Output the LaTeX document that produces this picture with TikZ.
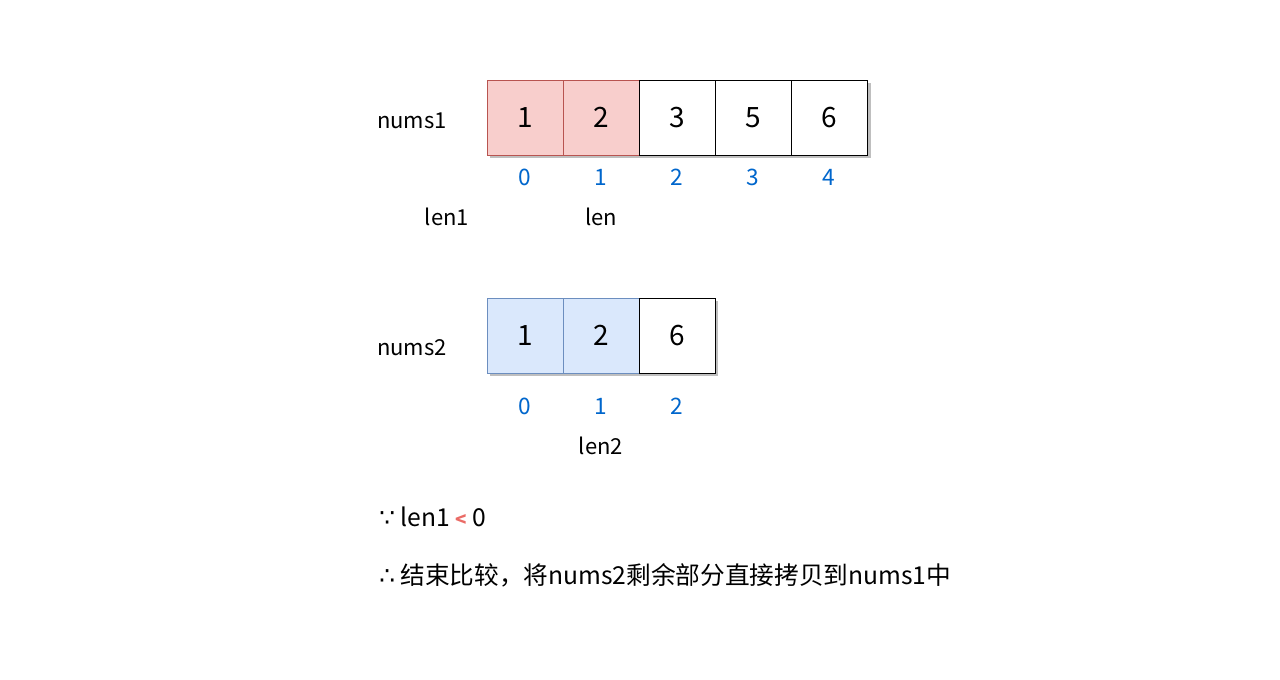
\documentclass[tikz,border=0pt]{standalone}
\usepackage{fontspec}
\setmainfont{Noto Sans CJK SC}
\newfontfamily\symfont{DejaVu Sans}
\definecolor{redfill}{HTML}{F8CECC}
\definecolor{redline}{HTML}{B85450}
\definecolor{bluefill}{HTML}{DAE8FC}
\definecolor{blueline}{HTML}{6C8EBF}
\definecolor{idxblue}{HTML}{0066CC}
\definecolor{ltred}{HTML}{EA6B66}
\begin{document}
\begin{tikzpicture}[x=0.75pt,y=-0.75pt,
  cell/.style={draw=black,fill=white,line width=0.75pt,minimum width=57pt,minimum height=56.25pt,inner sep=0pt,font=\fontsize{21}{25}\selectfont},
  redcell/.style={cell,draw=redline,fill=redfill},
  bluecell/.style={cell,draw=blueline,fill=bluefill},
  idx/.style={text=idxblue,font=\fontsize{17}{20}\selectfont,inner sep=0pt},
  lbl/.style={font=\fontsize{16.5}{20}\selectfont,inner sep=0pt},
  note/.style={font=\fontsize{18.5}{22}\selectfont,inner sep=0pt,anchor=west}]
\useasboundingbox (0,0) rectangle (1280,679);
% shadows
\fill[black!25] (490,83) rectangle (871,158);
\fill[black!25] (490,301) rectangle (718,376);
% nums1
\node[lbl] (n1) at (412,121) {nums1};
\node[redcell] (a0) at (525,117.5) {1};
\node[redcell] (a1) at (601,117.5) {2};
\node[cell] (a2) at (677,117.5) {3};
\node[cell] (a3) at (753,117.5) {5};
\node[cell] (a4) at (829,117.5) {6};
\node[idx] (i0) at (525,177) {0};
\node[idx] (i1) at (601,177) {1};
\node[idx] (i2) at (677,177) {2};
\node[idx] (i3) at (753,177) {3};
\node[idx] (i4) at (829,177) {4};
\node[lbl] (len1) at (447,217) {len1};
\node[lbl] (len) at (601,217) {len};
% nums2
\node[lbl] (n2) at (412,348) {nums2};
\node[bluecell] (b0) at (525,335.5) {1};
\node[bluecell] (b1) at (601,335.5) {2};
\node[cell] (b2) at (677,335.5) {6};
\node[idx] (j0) at (525,406) {0};
\node[idx] (j1) at (601,406) {1};
\node[idx] (j2) at (677,406) {2};
\node[lbl] (len2) at (601,446) {len2};
% notes
\node[note] (t1) at (379,517) {{\symfont ∵} len1 \textcolor{ltred}{\fontsize{14}{16}\selectfont\bfseries <} 0};
\node[note] (t2) at (379,575) {{\symfont ∴} 结束比较，将nums2剩余部分直接拷贝到nums1中};
\end{tikzpicture}
\end{document}
